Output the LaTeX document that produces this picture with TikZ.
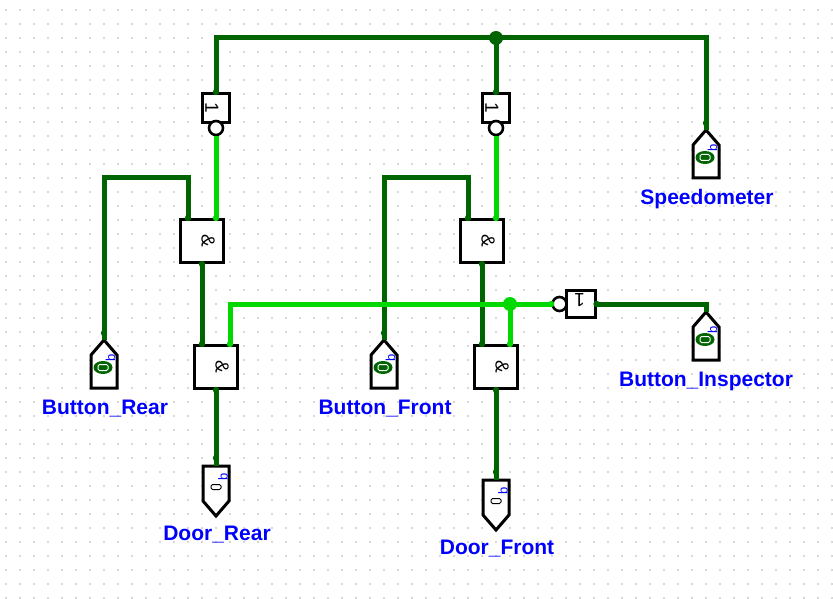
\documentclass[tikz,border=0pt]{standalone}
\usepackage{fontspec}
\setmainfont{Liberation Sans}
\usetikzlibrary{calc, shapes}
\definecolor{wireoff}{HTML}{006400}
\definecolor{wireon}{HTML}{00D800}
\definecolor{griddot}{HTML}{505050}
\definecolor{pinblue}{HTML}{0000FF}
\tikzset{
  wirelow/.style={line width=5pt, wireoff, line join=miter},
  wirehigh/.style={line width=5pt, wireon, line join=miter},
  gatebox/.style={draw=black, line width=3pt, fill=white, inner sep=0pt},
  andgate/.style={gatebox, minimum width=43pt, minimum height=43pt},
  notgate/.style={gatebox, minimum width=27pt, minimum height=29pt},
  bubble/.style={circle, draw=black, line width=2.6pt, fill=white, minimum size=14pt, inner sep=0pt},
  pinname/.style={text=pinblue, font=\fontsize{21}{21}\selectfont\bfseries, inner sep=0pt},
  gatetext/.style={font=\fontsize{19}{19}\selectfont, inner sep=0pt},
  pinwidth/.style={text=pinblue, font=\fontsize{13}{13}\selectfont, inner sep=0pt, rotate=90},
  pinout/.style={draw=black, line width=3pt, fill=white, line join=miter},
}
\begin{document}
\begin{tikzpicture}[x=1pt, y=-1pt]
\useasboundingbox (0, 0) rectangle (833, 599);

% grid dots
\foreach \i in {0, ..., 59} {
  \foreach \j in {0, ..., 42} {
    \fill[griddot] ({6 + 14*\i}, {10 + 14*\j}) circle (0.6);
  }
}

% input pins, tip at the given point
\newcommand{\inputpin}[2]{
  \draw[pinout] ($(#1)$) -- ++(13, 15) -- ++(0, 33) -- ++(-26, 0) -- ++(0, -33) -- cycle;
  \fill[wireoff] ($(#1) + (-1, 27.5)$) ellipse (9.5 and 6.5);
  \draw[white, line width=1pt, rounded corners=1.5pt] ($(#1) + (-6, 24.5)$) rectangle ($(#1) + (4, 30.5)$);
  \node[pinwidth] at ($(#1) + (6.5, 17.5)$) {#2};
}
% output pins, top middle at the given point
\newcommand{\outputpin}[2]{
  \draw[pinout] ($(#1) + (-13, 0)$) -- ++(0, 35) -- ++(13, 15) -- ++(13, -15) -- ++(0, -35) -- cycle;
  \draw[black, line width=1pt, rounded corners=1.5pt, fill=white] ($(#1) + (-5, 18.5)$) rectangle ($(#1) + (5, 23.5)$);
  \node[pinwidth] at ($(#1) + (7, 11)$) {#2};
}

\coordinate (pinSpeed) at (706, 130);
\coordinate (pinRear) at (104, 340);
\coordinate (pinFront) at (384, 340);
\coordinate (pinInsp) at (706, 312);
\coordinate (pinDoorRear) at (216, 466);
\coordinate (pinDoorFront) at (496, 480);

\inputpin{pinSpeed}{b}
\inputpin{pinRear}{b}
\inputpin{pinFront}{b}
\inputpin{pinInsp}{b}
\outputpin{pinDoorRear}{b}
\outputpin{pinDoorFront}{b}

\node[pinname] (labelSpeed) at (707, 199) {Speedometer};
\node[pinname] (labelRear) at (105, 409) {Button\_Rear};
\node[pinname] (labelFront) at (385, 409) {Button\_Front};
\node[pinname] (labelInsp) at (706, 381) {Button\_Inspector};
\node[pinname] (labelDoorRear) at (217, 535) {Door\_Rear};
\node[pinname] (labelDoorFront) at (497, 549) {Door\_Front};

% gates
\node[notgate] (notRear) at (216, 108) {};
\node[notgate] (notFront) at (496, 108) {};
\node[notgate, minimum width=29pt, minimum height=27pt] (notInsp) at (580.5, 304) {};
\node[andgate] (andRearA) at (202, 241) {};
\node[andgate] (andFrontA) at (482, 241) {};
\node[andgate] (andRearB) at (216, 367) {};
\node[andgate] (andFrontB) at (496, 367) {};
\node[bubble] (bubRear) at (216, 128) {};
\node[bubble] (bubFront) at (496, 128) {};
\node[bubble] (bubInsp) at (559.5, 304) {};

\node[gatetext, rotate=-90] at ($(notRear) + (-4, 0)$) {1};
\node[gatetext, rotate=-90] at ($(notFront) + (-4, 0)$) {1};
\node[gatetext, rotate=180] at ($(notInsp) + (-1, -4)$) {1};
\foreach \g in {andRearA, andFrontA, andRearB, andFrontB} {
  \node[gatetext, rotate=-90] at ($(\g) + (6, 0)$) {\&};
}

% inputs of the and gates
\coordinate (inRearA) at ($(andRearA.north) + (-14, 0)$);
\coordinate (inFrontA) at ($(andFrontA.north) + (-14, 0)$);
\coordinate (lowRearB) at ($(andRearB.north) + (-14, 0)$);
\coordinate (lowFrontB) at ($(andFrontB.north) + (-14, 0)$);
\coordinate (highRearA) at ($(andRearA.north) + (14, 0)$);
\coordinate (highFrontA) at ($(andFrontA.north) + (14, 0)$);
\coordinate (highRearB) at ($(andRearB.north) + (14, 0)$);
\coordinate (highFrontB) at ($(andFrontB.north) + (14, 0)$);

% wires
\coordinate (topJoint) at (496, 38);
\coordinate (lowJoint) at (510, 304);
\draw[wirelow] (notRear.north) |- (topJoint);
\draw[wirelow] (topJoint) -- (notFront.north);
\draw[wirelow] (topJoint) -| (pinSpeed);
\draw[wirelow] (pinRear) |- ++(84, -162) -- (inRearA);
\draw[wirelow] (pinFront) |- ++(84, -162) -- (inFrontA);
\draw[wirelow] (andRearA.south) -- (lowRearB);
\draw[wirelow] (andFrontA.south) -- (lowFrontB);
\draw[wirelow] (andRearB.south) -- (pinDoorRear);
\draw[wirelow] (andFrontB.south) -- (pinDoorFront);
\draw[wirelow] (notInsp.east) -| (pinInsp);
\draw[wirehigh] (bubRear.south) -- (highRearA);
\draw[wirehigh] (bubFront.south) -- (highFrontA);
\draw[wirehigh] (highRearB) |- (bubInsp.west);
\draw[wirehigh] (lowJoint) -- (highFrontB);
\fill[wireoff] (topJoint) circle (7);
\fill[wireon] (lowJoint) circle (7);

% end dots of the wires
\foreach \p in {(706, 123), (104, 333), (384, 333), (706, 305), (216, 458), (496, 472), (notRear.north), (notFront.north), (notInsp.east), (inRearA), (inFrontA), (andRearA.south), (andFrontA.south), (andRearB.south), (andFrontB.south), (lowRearB), (lowFrontB)} {
  \fill[wireoff] \p circle (3.2);
}
\foreach \p in {(highRearA), (highFrontA), (highRearB), (highFrontB), (bubInsp.west)} {
  \fill[wireon] \p circle (3.2);
}
\end{tikzpicture}
\end{document}
